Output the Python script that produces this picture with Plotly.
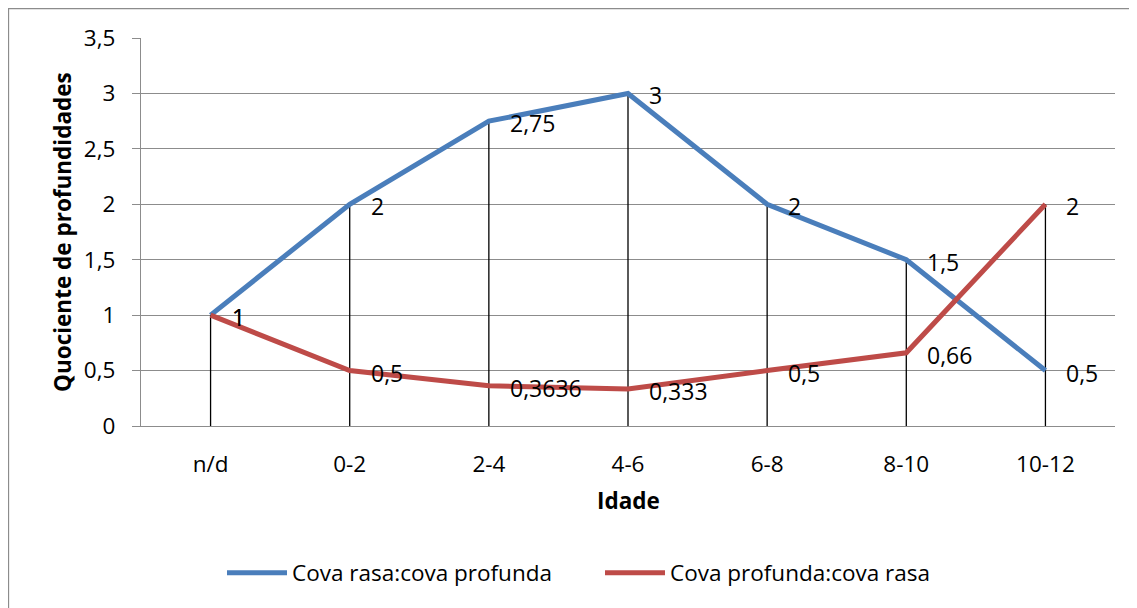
import plotly.graph_objects as go

categories = ["n/d", "0-2", "2-4", "4-6", "6-8", "8-10", "10-12"]
rasa_profunda = [1, 2, 2.75, 3, 2, 1.5, 0.5]
profunda_rasa = [1, 0.5, 0.3636, 0.333, 0.5, 0.66, 2]
rasa_labels = ["1", "2", "2,75", "3", "2", "1,5", "0,5"]
profunda_labels = ["1", "0,5", "0,3636", "0,333", "0,5", "0,66", "2"]
y_ticks = [0, 0.5, 1, 1.5, 2, 2.5, 3, 3.5]
y_ticktext = ["0", "0,5", "1", "1,5", "2", "2,5", "3", "3,5"]

BLUE = "#4A7EBB"
RED = "#BE4B48"
GRID = "#8C8C8C"
FONT = "Open Sans"

# page is offset by the 8px body margin; figure coords = page coords - 8
L, T, PW, PH = 133, 30, 974, 388
W, H = 1129, 600


def px(xp):
    return (xp - 8 - L) / PW


def py(yp):
    return (T + PH - (yp - 8)) / PH


fig = go.Figure()

# drop lines
dx, dy = [], []
for c, a, b in zip(categories, rasa_profunda, profunda_rasa):
    dx += [c, c, None]
    dy += [0, max(a, b), None]
fig.add_trace(go.Scatter(x=dx, y=dy, mode="lines", line=dict(color="black", width=1.3),
                         showlegend=False, hoverinfo="skip"))

fig.add_trace(go.Scatter(x=categories, y=rasa_profunda, mode="lines", name="Cova rasa:cova profunda",
                         line=dict(color=BLUE, width=5)))
fig.add_trace(go.Scatter(x=categories, y=profunda_rasa, mode="lines", name="Cova profunda:cova rasa",
                         line=dict(color=RED, width=5)))

annotations = []
for c, v, t in zip(categories, rasa_profunda, rasa_labels):
    annotations.append(dict(x=c, y=v, xref="x", yref="y", text=t, showarrow=False,
                            xanchor="left", yanchor="middle", xshift=19, yshift=-2,
                            font=dict(family=FONT, size=23, color="black")))
for c, v, t in zip(categories, profunda_rasa, profunda_labels):
    annotations.append(dict(x=c, y=v, xref="x", yref="y", text=t, showarrow=False,
                            xanchor="left", yanchor="middle", xshift=19, yshift=-2,
                            font=dict(family=FONT, size=23, color="black")))

annotations.append(dict(x=px(62), y=0.5, xref="paper", yref="paper", text="<b>Quociente de profundidades</b>",
                        showarrow=False, textangle=-90, xanchor="center", yanchor="middle",
                        font=dict(family=FONT, size=22.5, color="black")))
annotations.append(dict(x=0.5, y=py(500), xref="paper", yref="paper", text="<b>Idade</b>",
                        showarrow=False, xanchor="center", yanchor="middle",
                        font=dict(family=FONT, size=22.5, color="black")))

fig.update_layout(
    width=W, height=H,
    margin=dict(l=L, r=W - L - PW, t=T, b=H - T - PH),
    paper_bgcolor="white", plot_bgcolor="white",
    font=dict(family=FONT, size=22.5, color="black"),
    annotations=annotations,
    showlegend=True,
    legend=dict(orientation="h", x=px(222), xanchor="left",
                y=py(573), yanchor="middle",
                font=dict(family=FONT, size=22.5, color="black"),
                itemwidth=60, entrywidth=303, tracegroupgap=0, bgcolor="rgba(0,0,0,0)"),
    shapes=[dict(type="rect", xref="paper", yref="paper",
                 x0=px(8.5), x1=px(1300),
                 y0=py(800), y1=py(8.5),
                 line=dict(color="#8C8C8C", width=1.3), layer="below")],
)

fig.update_xaxes(type="category", range=[-0.5, 6.5], showgrid=False, showline=True,
                 linecolor=GRID, linewidth=1.3, ticks="", tickfont=dict(family=FONT, size=22.5),
                 ticklabelstandoff=18, zeroline=False)
fig.update_yaxes(range=[0, 3.5], tickvals=y_ticks, ticktext=y_ticktext, showgrid=True,
                 gridcolor=GRID, gridwidth=1.3, showline=True, linecolor=GRID, linewidth=1.3,
                 ticks="outside", ticklen=8, tickcolor=GRID, tickwidth=1.3,
                 ticklabelstandoff=12,
                 tickfont=dict(family=FONT, size=22.5), zeroline=False)

fig.write_html("out.html")
